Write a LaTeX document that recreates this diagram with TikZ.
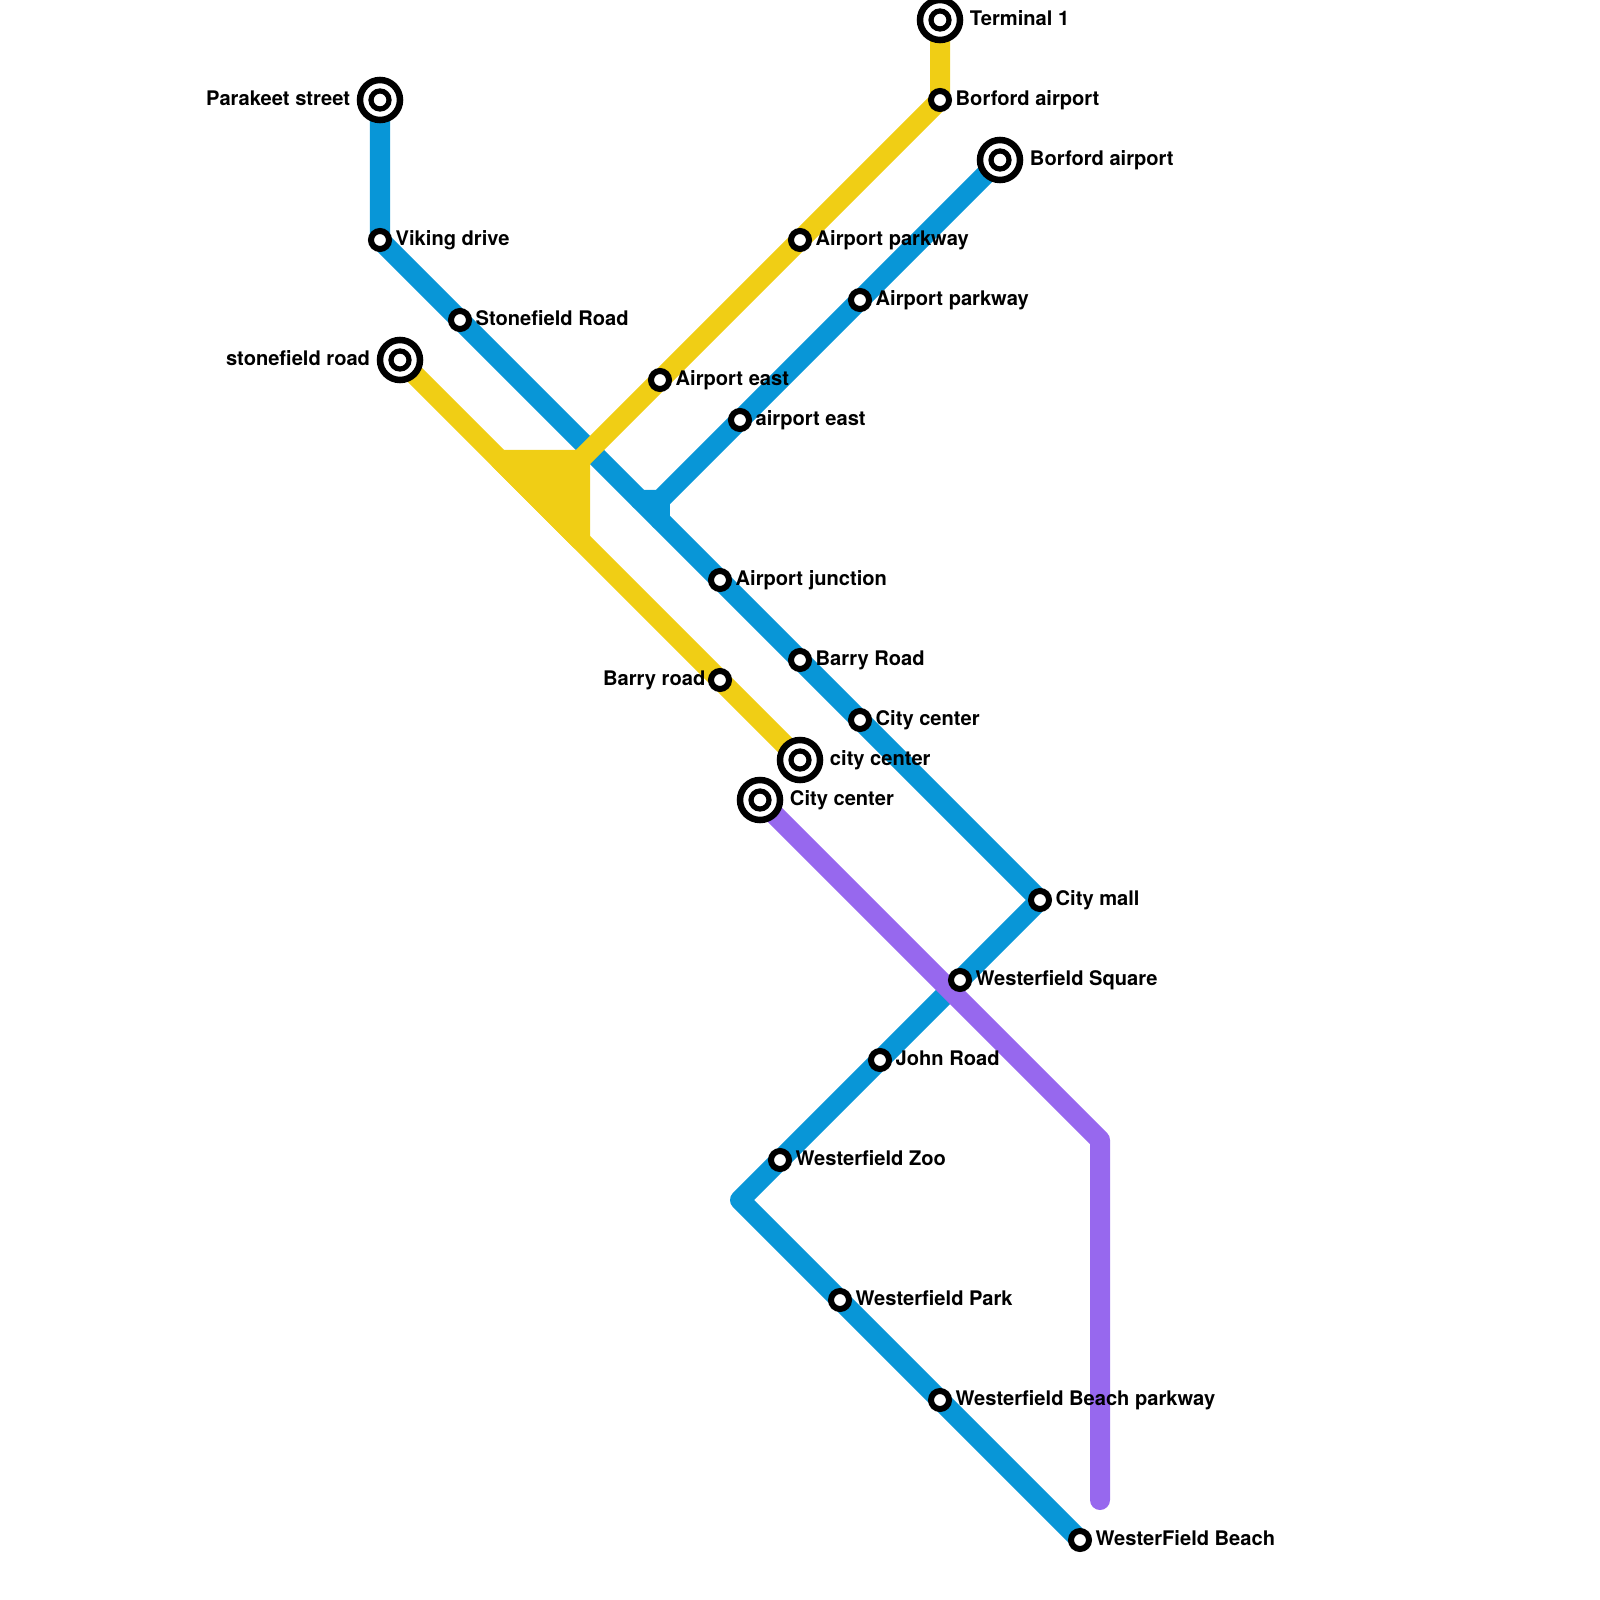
\documentclass[tikz,border=0pt]{standalone}
\usepackage{fontspec}
\setmainfont{TeX Gyre Heros}
\usetikzlibrary{backgrounds}
\definecolor{lineblue}{HTML}{0896D7}
\definecolor{lineyellow}{HTML}{F0CE15}
\definecolor{linepurple}{HTML}{9768EE}

\begin{document}
\begin{tikzpicture}[
  x=0.01cm,y=-0.01cm,
  font=\fontsize{5.72}{7}\selectfont\bfseries,
  stnlabel/.style={inner sep=0pt,text height=1.5ex,text depth=0.35ex,yshift=0.05cm},
  stopright/.style={stnlabel,xshift=0.03cm},
  stopleft/.style={stnlabel,xshift=-0.02cm},
  termright/.style={stnlabel,xshift=0.06cm},
  termleft/.style={stnlabel,xshift=-0.06cm},
  stop/.style={circle,draw=black,fill=white,line width=0.06cm,minimum size=0.18cm,inner sep=0pt},
  terminal/.style={circle,draw=black,fill=white,line width=0.065cm,minimum size=0.40cm,inner sep=0pt,
                   path picture={\draw[black,line width=0.052cm] (path picture bounding box.center) circle (0.09cm);}},
  route/.style={line width=0.2cm,line cap=round,line join=round},
  blueline/.style={route,draw=lineblue},
  yellowline/.style={route,draw=lineyellow},
  purpleline/.style={route,draw=linepurple},
]
\useasboundingbox (0,0) rectangle (1600,1600);

% ---------------- blue line ----------------
\node[terminal,label={[termleft]left:Parakeet street}] (parakeet) at (380,100) {};
\node[stop,label={[stopright]right:Viking drive}] (viking) at (380,240) {};
\node[stop,label={[stopright]right:Stonefield Road}] (stonefieldB) at (460,320) {};
\node[stop,label={[stopright]right:Airport junction}] (junction) at (720,580) {};
\node[stop,label={[stopright]right:Barry Road}] (barryB) at (800,660) {};
\node[stop,label={[stopright]right:City center}] (centerB) at (860,720) {};
\node[stop,label={[stopright]right:City mall}] (mall) at (1040,900) {};
\node[stop,label={[stopright]right:Westerfield Square}] (square) at (960,980) {};
\node[stop,label={[stopright]right:John Road}] (john) at (880,1060) {};
\node[stop,label={[stopright]right:Westerfield Zoo}] (zoo) at (780,1160) {};
\node[stop,label={[stopright]right:Westerfield Park}] (park) at (840,1300) {};
\node[stop,label={[stopright]right:Westerfield Beach parkway}] (parkway) at (940,1400) {};
\node[stop,label={[stopright]right:WesterField Beach}] (beach) at (1080,1540) {};
\node[terminal,label={[termright]right:Borford airport}] (borfordB) at (1000,160) {};
\node[stop,label={[stopright]right:Airport parkway}] (parkwayB) at (860,300) {};
\node[stop,label={[stopright]right:airport east}] (eastB) at (740,420) {};
\coordinate (blueA) at (640,500);
\coordinate (blueB) at (660,500);
\coordinate (blueC) at (660,520);
\coordinate (blueD) at (740,1200);

% ---------------- yellow line ----------------
\node[terminal,label={[termright]right:Terminal 1}] (terminal) at (940,20) {};
\node[stop,label={[stopright]right:Borford airport}] (borfordY) at (940,100) {};
\node[stop,label={[stopright]right:Airport parkway}] (parkwayY) at (800,240) {};
\node[stop,label={[stopright]right:Airport east}] (eastY) at (660,380) {};
\node[terminal,label={[termleft]left:stonefield road}] (stonefieldY) at (400,360) {};
\node[stop,label={[stopleft]left:Barry road}] (barryY) at (720,680) {};
\node[terminal,label={[termright]right:city center}] (centerY) at (800,760) {};
\coordinate (yellowA) at (500,460);
\coordinate (yellowB) at (580,460);
\coordinate (yellowC) at (580,540);

% ---------------- purple line ----------------
\node[terminal,label={[termright]right:City center}] (centerP) at (760,800) {};
\coordinate (purpleA) at (1100,1140);
\coordinate (purpleB) at (1100,1500);

% ---------------- routes, under the stations ----------------
\begin{scope}[on background layer]
  \draw[blueline] (parakeet.center) -- (viking.center) -- (stonefieldB.center) -- (blueA) -- (blueC)
    -- (junction.center) -- (barryB.center) -- (centerB.center) -- (mall.center) -- (square.center)
    -- (john.center) -- (zoo.center) -- (blueD) -- (park.center) -- (parkway.center) -- (beach.center);
  \draw[blueline] (borfordB.center) -- (parkwayB.center) -- (eastB.center) -- (blueB) -- (blueA);
  \draw[blueline] (blueB) -- (blueC);
  \draw[yellowline] (stonefieldY.center) -- (yellowA) -- (barryY.center) -- (centerY.center);
  \draw[yellowline,fill=lineyellow] (yellowA) -- (yellowB) -- (yellowC) -- cycle;
  \draw[yellowline] (terminal.center) -- (borfordY.center) -- (parkwayY.center) -- (eastY.center) -- (yellowB);
  \draw[purpleline] (centerP.center) -- (purpleA) -- (purpleB);
\end{scope}

\end{tikzpicture}
\end{document}
